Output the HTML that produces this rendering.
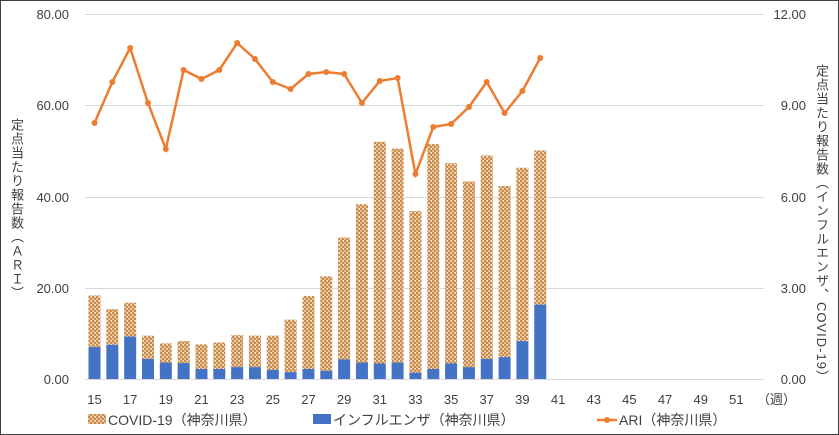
<!DOCTYPE html><html><head><meta charset="utf-8"><style>body{margin:0;background:#fff;position:relative;width:839px;height:435px;overflow:hidden}svg{display:block}text{font-family:"Liberation Sans","Noto Sans CJK JP",sans-serif;fill:#404040}.vt{position:absolute;writing-mode:vertical-rl;font-family:"Liberation Sans","Noto Sans CJK JP",sans-serif;font-size:13px;color:#404040;white-space:nowrap;line-height:1;letter-spacing:1px}</style></head><body>
<svg width="839" height="435" viewBox="0 0 839 435" xmlns="http://www.w3.org/2000/svg">
<defs><pattern id="p" width="4" height="4" patternUnits="userSpaceOnUse"><rect width="4" height="4" fill="#e6bf93"/><rect x="0" y="0" width="2" height="2" fill="#c98a4e"/><rect x="2" y="2" width="2" height="2" fill="#c98a4e"/><rect x="3" y="0" width="1" height="1" fill="#fff"/></pattern></defs>
<rect x="0.5" y="0.5" width="838" height="434" fill="#fff" stroke="#404040"/>
<g stroke="#d9d9d9" stroke-width="1">
<line x1="85" x2="764" y1="14.5" y2="14.5"/><line x1="85" x2="764" y1="105.5" y2="105.5"/><line x1="85" x2="764" y1="197.5" y2="197.5"/><line x1="85" x2="764" y1="288.5" y2="288.5"/><line x1="85" x2="764" y1="379.5" y2="379.5"/></g>
<g font-size="13" text-anchor="end"><text x="69" y="19">80.00</text><text x="69" y="110">60.00</text><text x="69" y="202">40.00</text><text x="69" y="293">20.00</text><text x="69" y="384">0.00</text></g>
<g font-size="13" text-anchor="end"><text x="806" y="19">12.00</text><text x="806" y="110">9.00</text><text x="806" y="202">6.00</text><text x="806" y="293">3.00</text><text x="806" y="384">0.00</text></g>
<g id="bars"></g><g id="line"></g>
<g font-size="13" text-anchor="middle" id="xl"></g>
<text x="757" y="404" font-size="13">（週）</text>
<rect x="88" y="414" width="18" height="10" fill="url(#p)"/><text x="108" y="425" font-size="14">COVID-19（神奈川県）</text>
<rect x="313" y="414" width="18" height="10" fill="#4472c4"/><text x="333" y="425" font-size="14">インフルエンザ（神奈川県）</text>
<line x1="597" x2="617" y1="420" y2="420" stroke="#ed7d31" stroke-width="2.5"/><circle cx="607" cy="420" r="3" fill="#ed7d31"/><text x="619" y="425" font-size="14">ARI（神奈川県）</text>
</svg>
<div class="vt" style="left:10px;top:118px">定点当たり報告数（ＡＲＩ）</div>
<div class="vt" style="left:815px;top:64px">定点当たり報告数（インフルエンザ、COVID-19）</div>
<script>
const tot=[18.3,15.3,16.7,9.5,7.8,8.3,7.6,8.0,9.6,9.5,9.5,13.0,18.2,22.5,31.0,38.3,52.0,50.5,36.8,51.5,47.3,43.3,49.0,42.3,46.3,50.1];
const flu=[7.0,7.5,9.3,4.4,3.6,3.5,2.2,2.2,2.6,2.6,2.0,1.5,2.2,1.8,4.3,3.6,3.4,3.6,1.4,2.2,3.4,2.6,4.4,4.8,8.3,16.3];
const ly=[123,82,48,103,149,70,79,70,43,59,82,89,74,72,74,103,81,78,174,127,124,107,82,113,91,58];
const cx=i=>94.5+i*17.83,Y=v=>379-v*4.5625,ns="http://www.w3.org/2000/svg";
let b=document.getElementById('bars'),l=document.getElementById('line'),xl=document.getElementById('xl');
function el(t,a,p){let e=document.createElementNS(ns,t);for(let k in a)e.setAttribute(k,a[k]);p.appendChild(e);return e}
tot.forEach((t,i)=>{el('rect',{x:cx(i)-6,y:Y(t),width:12,height:(t-flu[i])*4.5625,fill:'url(#p)'},b);el('rect',{x:cx(i)-6,y:Y(flu[i]),width:12,height:flu[i]*4.5625,fill:'#4472c4'},b)});
el('polyline',{points:ly.map((y,i)=>cx(i)+','+y).join(' '),fill:'none',stroke:'#ed7d31','stroke-width':2.5},l);
ly.forEach((y,i)=>el('circle',{cx:cx(i),cy:y,r:3,fill:'#ed7d31'},l));
for(let w=15;w<=51;w+=2){let t=el('text',{x:cx(w-15),y:404},xl);t.textContent=w}
</script></body></html>
